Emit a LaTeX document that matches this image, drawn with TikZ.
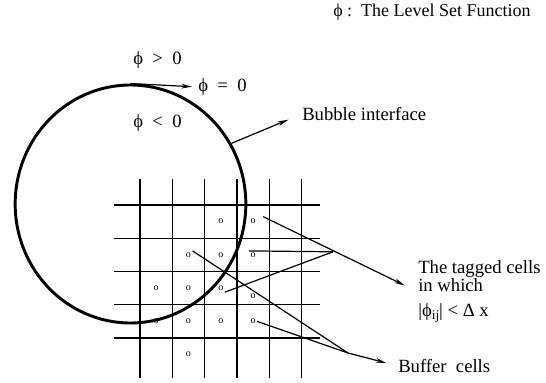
\documentclass[tikz,border=0pt]{standalone}
\usepackage{fontspec}
\setmainfont{Liberation Serif}
\usetikzlibrary{arrows.meta,shapes.geometric}

\begin{document}
\begin{tikzpicture}[x=0.75pt,y=-0.75pt,
    every node/.style={font=\fontsize{14}{13.5}\selectfont},
    lbl/.style={anchor=west,inner sep=0pt,align=left},
    cellmark/.style={inner sep=1pt,font=\fontsize{7.5}{8}\selectfont},
    gridline/.style={line width=1pt},
    feeder/.style={line width=0.9pt},
    pointer/.style={feeder,-{Stealth[length=8pt,width=3.5pt]}}]
  \useasboundingbox (0,0) rectangle (546,382);
  % cells
  \foreach \gx in {0,...,5}
    \draw[gridline] (140+32.3*\gx,179) -- (140+32.3*\gx,378);
  \foreach \gy in {0,...,4}
    \draw[gridline] (114,205+33.25*\gy) -- (320,205+33.25*\gy);
  \node (bubble) [ellipse, draw, line width=2.2pt, minimum width=173pt, minimum height=178.5pt, inner sep=0pt] at (130.5,204) {};
  \foreach \c/\r in {3/1,4/1,2/2,3/2,4/2,1/3,2/3,3/3,1/4,2/4,3/4,4/4,2/5}
    \node[cellmark] (c\c\r) at (140+32.3*\c-16.15,205+33.25*\r-16.6) {o};
  \node[cellmark] (c43) at (253.05,296) {o};
  % labels
  \node[lbl, font=\fontsize{13.5}{15}\selectfont] (title) at (333,12) {ϕ :\ \ The Level Set Function};
  \node[lbl] (phigt) at (133,60) {ϕ\enspace>\enspace0};
  \node[lbl] (phizero) at (198,87) {ϕ\enspace=\enspace0};
  \node[lbl] (philt) at (133,123) {ϕ\enspace<\enspace0};
  \node[lbl] (bubbletxt) at (302,114) {Bubble interface};
  \node[lbl] (tagged) at (418,276) {The tagged cells\\in which};
  \node[lbl] (cond) at (418,313) {|ϕ\raisebox{-0.35ex}{\fontsize{10}{10}\selectfont ij}| < Δ x};
  \node[lbl] (buffer) at (398,366) {Buffer\ \ cells};
  \coordinate (tagjoin) at (333,251.8);
  \coordinate (bufjoin) at (348,353);
  % pointers
  \draw[pointer] (bubble.north) -- (phizero.west) [shorten >=4.5pt];
  \draw[pointer, shorten >=11pt] (bubble.31) -- (bubbletxt.west);
  \draw[pointer, shorten >=11pt] ([shift={(6,-1)}]c41.north east) -- (tagged.south west);
  \draw[feeder] (c42.north west) -- (tagjoin);
  \draw[feeder] (c33.south east) -- (tagjoin);
  \draw[feeder] (c22.north east) -- (bufjoin);
  \draw[feeder] (c44.east) -- (bufjoin);
  \draw[pointer, shorten >=9pt] (bufjoin) -- (buffer.west);
\end{tikzpicture}
\end{document}
